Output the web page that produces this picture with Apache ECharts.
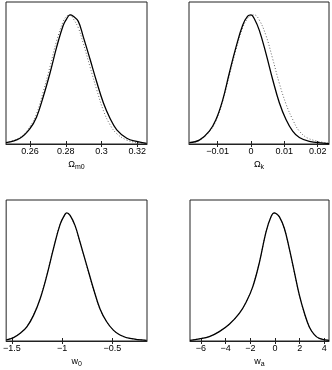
<!DOCTYPE html>
<html>
<head>
<meta charset="utf-8">
<script src="https://cdn.jsdelivr.net/npm/echarts@6/dist/echarts.min.js"></script>
<style>
html,body{margin:0;padding:0;background:#fff;}
#main{width:332px;height:370px;}
</style>
</head>
<body>
<div id="main"></div>
<script>
//************************* data ******************************//
// panel 1: Omega_m0
var om_x      = [0.2466, 0.2544, 0.26, 0.2637, 0.2675, 0.2712, 0.2749, 0.2786, 0.2805, 0.2824, 0.2842, 0.2870, 0.2898, 0.2935, 0.2973, 0.3010, 0.3047, 0.3085, 0.3141, 0.3196, 0.3252];
var om_solid  = [0.01, 0.045, 0.12, 0.21, 0.37, 0.55, 0.75, 0.92, 0.97, 1.0, 0.99, 0.95, 0.83, 0.66, 0.48, 0.32, 0.2, 0.11, 0.045, 0.02, 0.005];
var om_dot    = [0.012, 0.05, 0.135, 0.235, 0.41, 0.6, 0.8, 0.95, 0.99, 1.0, 0.97, 0.9, 0.78, 0.6, 0.42, 0.26, 0.15, 0.08, 0.03, 0.012, 0.004];
var om_ticks  = [0.26, 0.28, 0.30, 0.32];

// panel 2: Omega_k
var ok_x      = [-0.0185, -0.0155, -0.0125, -0.0105, -0.0085, -0.0065, -0.0045, -0.0025, -0.001, 0, 0.001, 0.0025, 0.0045, 0.0065, 0.0085, 0.0105, 0.0125, 0.0145, 0.0175, 0.0234];
var ok_solid  = [0.01, 0.03, 0.1, 0.19, 0.34, 0.55, 0.75, 0.92, 0.99, 1.0, 0.97, 0.88, 0.70, 0.50, 0.32, 0.19, 0.10, 0.05, 0.02, 0.003];
var ok_dot    = [0.008, 0.028, 0.095, 0.18, 0.33, 0.53, 0.73, 0.9, 0.975, 0.995, 1.0, 0.96, 0.84, 0.66, 0.47, 0.31, 0.19, 0.1, 0.04, 0.006];
var ok_ticks  = [-0.01, 0, 0.01, 0.02];

// panel 3: w0
var w0_x      = [-1.5563, -1.4834, -1.4172, -1.3510, -1.2848, -1.2185, -1.1523, -1.0861, -1.0199, -0.9702, -0.9536, -0.9205, -0.8709, -0.8212, -0.7550, -0.6887, -0.6225, -0.5563, -0.4901, -0.4238, -0.3245, -0.1589];
var w0_solid  = [0.008, 0.026, 0.06, 0.11, 0.2, 0.33, 0.51, 0.72, 0.91, 0.99, 1.0, 0.98, 0.9, 0.77, 0.59, 0.41, 0.25, 0.15, 0.085, 0.047, 0.02, 0.005];
var w0_dot    = [0.009, 0.028, 0.062, 0.115, 0.205, 0.335, 0.515, 0.725, 0.91, 0.985, 0.995, 0.975, 0.895, 0.765, 0.585, 0.405, 0.248, 0.148, 0.084, 0.046, 0.02, 0.005];
var w0_ticks  = [-1.5, -1, -0.5];

// panel 4: wa
var wa_x      = [-6.892, -6.135, -5.324, -4.514, -3.703, -2.892, -2.351, -1.811, -1.270, -0.730, -0.324, -0.054, 0.081, 0.351, 0.757, 1.162, 1.568, 1.973, 2.378, 2.784, 3.189, 3.595, 4.38];
var wa_solid  = [0.005, 0.016, 0.034, 0.073, 0.13, 0.215, 0.3, 0.42, 0.61, 0.85, 0.97, 1.0, 0.995, 0.97, 0.88, 0.72, 0.54, 0.36, 0.22, 0.11, 0.05, 0.02, 0.005];
var wa_dot    = [0.005, 0.017, 0.035, 0.074, 0.132, 0.218, 0.303, 0.423, 0.613, 0.85, 0.968, 0.997, 0.993, 0.966, 0.876, 0.716, 0.535, 0.356, 0.218, 0.11, 0.05, 0.02, 0.005];
var wa_ticks  = [-6, -4, -2, 0, 2, 4];

//************************* layout ******************************//
var panels = [
    {x: om_x, s: om_solid, d: om_dot, ticks: om_ticks, min: 0.2466, max: 0.3254, name: '{a|Ω}{b|m0}', grid: {left: 6, top: 2, width: 141, height: 142}},
    {x: ok_x, s: ok_solid, d: ok_dot, ticks: ok_ticks, min: -0.0186, max: 0.0234, name: '{a|Ω}{b|k}', grid: {left: 189, top: 2, width: 140, height: 142}},
    {x: w0_x, s: w0_solid, d: w0_dot, ticks: w0_ticks, min: -1.557, max: -0.155, name: '{a|w}{b|0}', grid: {left: 6, top: 200, width: 141, height: 141}},
    {x: wa_x, s: wa_solid, d: wa_dot, ticks: wa_ticks, min: -6.89, max: 4.38, name: '{a|w}{b|a}', grid: {left: 190, top: 200, width: 139, height: 141}}
];

function pairs(xs, ys){
    var out = [];
    for(var i=0; i<xs.length; i++){
        out.push([xs[i], ys[i]]);
    }
    return out;
}

var grids = [], xAxes = [], yAxes = [], series = [];
var fontFam = 'Liberation Sans, Arial, sans-serif';

for(var i=0; i<panels.length; i++){
    var p = panels[i];
    grids.push({
        left: p.grid.left, top: p.grid.top, width: p.grid.width, height: p.grid.height,
        show: true, borderColor: '#222', borderWidth: 1, backgroundColor: '#fff'
    });
    // bottom axis with labels
    xAxes.push({
        type: 'value', gridIndex: i, min: p.min, max: p.max, position: 'bottom',
        splitLine: {show: false},
        axisLine: {show: true, onZero: false, lineStyle: {color: '#222', width: 1}},
        axisTick: {show: true, inside: true, length: 3, customValues: p.ticks, lineStyle: {color: '#222'}},
        axisLabel: {show: true, customValues: p.ticks, color: '#000', fontSize: 9, fontFamily: fontFam, margin: 3,
            formatter: function(v){ return String(v).replace('-', '\u2212'); }},
        name: p.name, nameLocation: 'middle', nameGap: 14,
        nameTextStyle: {
            rich: {
                a: {fontSize: 9, color: '#000', fontFamily: fontFam},
                b: {fontSize: 7, color: '#000', fontFamily: fontFam, verticalAlign: 'bottom', padding: [6, 0, 0, 0]}
            }
        }
    });
    // y axis: no ticks or labels, left edge comes from the grid border
    yAxes.push({
        type: 'value', gridIndex: i, min: 0, max: 1.1,
        splitLine: {show: false},
        axisLine: {show: false, onZero: false},
        axisTick: {show: false},
        axisLabel: {show: false}
    });
    series.push({
        type: 'line', xAxisIndex: i, yAxisIndex: i, data: pairs(p.x, p.d),
        showSymbol: false, smooth: 0.4, silent: true,
        lineStyle: {color: '#666', width: 1, type: [1, 2]}
    });
    series.push({
        type: 'line', xAxisIndex: i, yAxisIndex: i, data: pairs(p.x, p.s),
        showSymbol: false, smooth: 0.4, silent: true,
        lineStyle: {color: '#000', width: 1.3}
    });
}
// top axes carry only the inner ticks
for(var j=0; j<panels.length; j++){
    var q = panels[j];
    xAxes.push({
        type: 'value', gridIndex: j, min: q.min, max: q.max, position: 'top',
        splitLine: {show: false},
        axisLine: {show: false},
        axisTick: {show: true, inside: true, length: 3, customValues: q.ticks, lineStyle: {color: '#222'}},
        axisLabel: {show: false}
    });
}

var myChart = echarts.init(document.getElementById('main'));
myChart.setOption({
    animation: false,
    grid: grids,
    xAxis: xAxes,
    yAxis: yAxes,
    series: series
});
</script>
</body>
</html>
